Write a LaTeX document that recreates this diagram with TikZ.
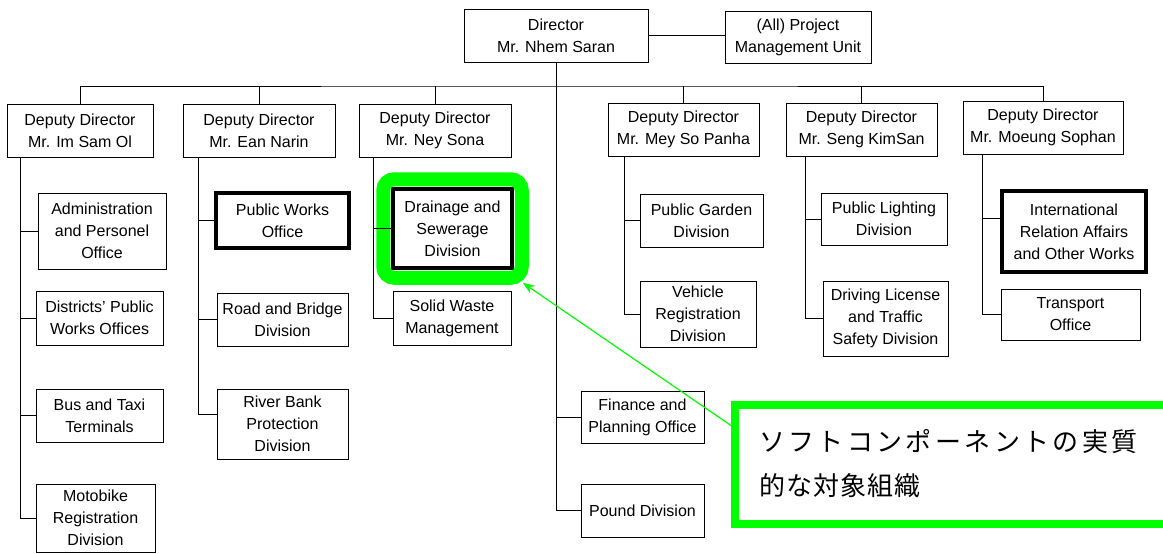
\documentclass[tikz,border=0pt]{standalone}
\usepackage{fontspec}
\setmainfont{Liberation Sans}
\newfontfamily\jpfont{Noto Sans CJK JP}
\usetikzlibrary{arrows.meta,fit}
\definecolor{hlgreen}{RGB}{0,255,0}

\begin{document}
\begin{tikzpicture}[x=1pt, y=-1pt,
  orgbox/.style={draw, line width=1pt, fill=white, align=center, inner sep=0pt, font=\fontsize{16}{22}\selectfont},
  keybox/.style={orgbox, line width=3.5pt},
  ring/.style={draw=hlgreen, line width=14pt, rounded corners=11pt, inner sep=8pt},
  link/.style={line width=1pt},
  calloutbox/.style={draw=hlgreen, line width=8pt, text width=392pt, inner xsep=24pt, inner ysep=0pt, minimum height=119pt, align=left, font=\jpfont\fontsize{26}{44}\selectfont}]
\useasboundingbox (0,0) rectangle (1163,554);
% top
\node[orgbox, minimum width=184, minimum height=53] (dir) at (556,35.5) {Director\\Mr. Nhem Saran};
\node[orgbox, minimum width=146, minimum height=52] (pmu) at (798,37) {(All) Project\\Management Unit};
% deputy directors
\node[orgbox, minimum width=146, minimum height=53] (dd1) at (80,130.5) {Deputy Director\\Mr. Im Sam Ol};
\node[orgbox, minimum width=152, minimum height=53] (dd2) at (259,130.5) {Deputy Director\\Mr. Ean Narin};
\node[orgbox, minimum width=152, minimum height=53] (dd3) at (435,130.5) {Deputy Director\\Mr. Ney Sona};
\node[orgbox, minimum width=151, minimum height=53] (dd4) at (683.5,129.5) {Deputy Director\\Mr. Mey So Panha};
\node[orgbox, minimum width=151, minimum height=53] (dd5) at (861.5,129.5) {Deputy Director\\Mr. Seng KimSan};
\node[orgbox, minimum width=160, minimum height=53] (dd6) at (1043,127.5) {Deputy Director\\Mr. Moeung Sophan};
% under dd1
\node[orgbox, minimum width=128, minimum height=76] (adm) at (102,231) {Administration\\and Personel\\Office};
\node[orgbox, minimum width=127, minimum height=54] (dst) at (99.5,318) {Districts' Public\\Works Offices};
\node[orgbox, minimum width=127, minimum height=53] (btt) at (99.5,415.5) {Bus and Taxi\\Terminals};
\node[orgbox, minimum width=119, minimum height=68] (mot) at (95.5,518) {Motobike\\Registration\\Division};
% under dd2
\node[keybox, minimum width=133, minimum height=55] (pwo) at (282.5,220.5) {Public Works\\Office};
\node[orgbox, minimum width=131, minimum height=53] (rbd) at (282.5,319.5) {Road and Bridge\\Division};
\node[orgbox, minimum width=131, minimum height=70] (rbp) at (282.5,424) {River Bank\\Protection\\Division};
% under dd3
\node[keybox, minimum width=119, minimum height=79] (dsd) at (452.5,228.5) {Drainage and\\Sewerage\\Division};
\node[orgbox, minimum width=118, minimum height=54] (swm) at (452,318) {Solid Waste\\Management};
% under dd4
\node[orgbox, minimum width=123, minimum height=53] (pgd) at (701.5,220.5) {Public Garden\\Division};
\node[orgbox, minimum width=116, minimum height=66] (vrd) at (698,314) {Vehicle\\Registration\\Division};
% under dd5
\node[orgbox, minimum width=126, minimum height=52] (pld) at (884,219) {Public Lighting\\Division};
\node[orgbox, minimum width=125, minimum height=75] (dlt) at (885.5,318.5) {Driving License\\and Traffic\\Safety Division};
% under dd6
\node[keybox, minimum width=144, minimum height=81] (ira) at (1074,231.5) {International\\Relation Affairs\\and Other Works};
\node[orgbox, minimum width=139, minimum height=51] (tro) at (1070.5,314.5) {Transport\\Office};
% under director
\node[orgbox, minimum width=123, minimum height=52] (fpo) at (642.5,417) {Finance and\\Planning Office};
\node[orgbox, minimum width=123, minimum height=53] (pnd) at (642.5,510.5) {Pound Division};

\node[ring, fit=(dsd)] (ring) {};

% connectors
\draw[link] (dir.east) -- (dir.east -| pmu.west);
\coordinate (bus) at (557,86);
\draw[link] (dd1.north) |- (bus) -| (dd6.north);
\foreach \n in {dd2,dd3,dd4,dd5}
  \draw[link] (\n.north) -- (\n.north |- bus);
\draw[link] (dir.south) |- (fpo.west);
\draw[link] (dir.south) |- (pnd.west);
\foreach \n in {adm,dst,btt,mot}
  \draw[link] ([xshift=14pt]dd1.south west) |- (\n.west);
\draw[link] ([xshift=16pt]dd2.south west) |- (pwo.west);
\draw[link] ([xshift=16pt]dd2.south west) |- (rbd.west);
\draw[link] ([xshift=16pt]dd2.south west) |- ([yshift=10pt]rbp.west);
\draw[link] ([xshift=15pt]dd3.south west) |- (dsd.west);
\draw[link] ([xshift=15pt]dd3.south west) |- (swm.west);
\draw[link] ([xshift=17pt]dd4.south west) |- (pgd.west);
\draw[link] ([xshift=17pt]dd4.south west) |- (vrd.west);
\draw[link] ([xshift=20pt]dd5.south west) |- (pld.west);
\draw[link] ([xshift=20pt]dd5.south west) |- (dlt.west);
\draw[link] ([xshift=20pt]dd6.south west) |- ([yshift=13pt]ira.west);
\draw[link] ([xshift=20pt]dd6.south west) |- (tro.west);

% callout
\node[calloutbox] (note) at (955,464) {{\addfontfeature{LetterSpace=13}ソフトコンポーネントの実質}\\{\addfontfeature{LetterSpace=4}的な対象組織}};
\draw[hlgreen, line width=1.2pt, -{Stealth[length=12pt, width=9pt]}] ([yshift=-25pt]note.north west) -- ([xshift=-6pt, yshift=2pt]ring.south east);
\end{tikzpicture}
\end{document}
